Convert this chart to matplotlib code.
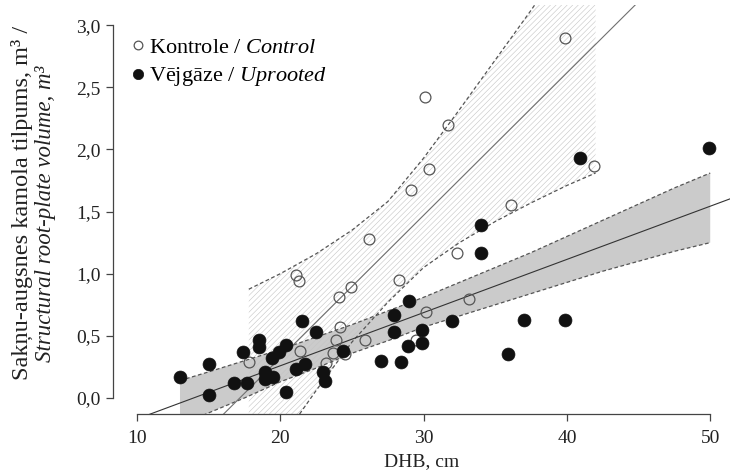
import matplotlib
matplotlib.use("Agg")
import matplotlib.pyplot as plt
import numpy as np

plt.rcParams['font.family'] = ['Liberation Serif', 'DejaVu Serif']
plt.rcParams['mathtext.fontset'] = 'custom'
plt.rcParams['mathtext.rm'] = 'Liberation Serif'
plt.rcParams['mathtext.it'] = 'Liberation Serif:italic'
plt.rcParams['hatch.linewidth'] = 0.4

# -----------------------------------------------------------#
# Data
# -----------------------------------------------------------#
ctrl_dhb = [17.8, 21.1, 21.3, 21.4, 23.2, 23.7, 23.9, 24.1, 24.2, 24.5, 24.9,
            25.9, 26.2, 28.3, 29.1, 29.5, 30.1, 30.2, 30.4, 31.7, 32.3, 33.2,
            36.1, 39.9, 41.9]
ctrl_vol = [0.29, 0.99, 0.94, 0.38, 0.28, 0.36, 0.47, 0.81, 0.57, 0.35, 0.89,
            0.47, 1.28, 0.95, 1.67, 0.47, 2.42, 0.69, 1.84, 2.20, 1.17, 0.80,
            1.55, 2.90, 1.87]

upr_dhb = [13.0, 15.0, 15.0, 16.8, 17.4, 17.7, 18.5, 18.5, 18.9, 18.9, 19.4,
           19.5, 19.9, 20.4, 20.4, 21.1, 21.5, 21.7, 22.5, 23.0, 23.1, 24.4,
           27.0, 27.9, 27.9, 28.4, 28.9, 29.0, 29.9, 29.9, 32.0, 34.0, 34.0,
           35.9, 37.0, 39.9, 40.9, 49.9]
upr_vol = [0.17, 0.27, 0.02, 0.12, 0.37, 0.12, 0.47, 0.41, 0.21, 0.15, 0.32,
           0.17, 0.37, 0.43, 0.05, 0.23, 0.62, 0.27, 0.53, 0.21, 0.14, 0.38,
           0.30, 0.67, 0.53, 0.29, 0.42, 0.78, 0.55, 0.44, 0.62, 1.39, 1.17,
           0.35, 0.63, 0.63, 1.93, 2.01]

# regression lines (intercept, slope)
ctrl_fit = (-1.968, 0.1146)
upr_fit = (-0.597, 0.0428)

# confidence bands
ctrl_band_x = [17.8, 20, 22.5, 25, 27.5, 30, 32.5, 35, 37.5, 40, 42]
ctrl_band_lo = [-0.73, -0.35, 0.06, 0.45, 0.77, 1.05, 1.25, 1.42, 1.57, 1.71, 1.81]
ctrl_band_hi = [0.875, 1.00, 1.16, 1.35, 1.58, 1.93, 2.32, 2.72, 3.12, 3.54, 3.88]

upr_band_x = [13, 15, 17.5, 20, 22.5, 25, 27.5, 30, 32.5, 35, 37.5, 40, 42.5, 45, 47.5, 50]
upr_band_lo = [-0.22, -0.12, 0.00, 0.13, 0.24, 0.36, 0.46, 0.57, 0.66, 0.75,
               0.84, 0.93, 1.02, 1.10, 1.18, 1.25]
upr_band_hi = [0.14, 0.21, 0.30, 0.39, 0.49, 0.59, 0.70, 0.81, 0.93, 1.05,
               1.17, 1.30, 1.43, 1.56, 1.69, 1.81]

xticks = [10, 20, 30, 40, 50]
yticks = [0.0, 0.5, 1.0, 1.5, 2.0, 2.5, 3.0]
ytick_labels = ['0,0', '0,5', '1,0', '1,5', '2,0', '2,5', '3,0']

# -----------------------------------------------------------#
# Figure
# -----------------------------------------------------------#
W, H = 730, 475
fig = plt.figure(figsize=(W / 100, H / 100), dpi=100)
ax = fig.add_axes([113 / W, 61 / H, 617 / W, 409 / H])
ax.set_xlim(8.325, 51.38)
ax.set_ylim(-0.129, 3.162)

dash = (0, (3, 2))
edge = '#555555'

# uprooted band (grey)
ax.fill_between(upr_band_x, upr_band_lo, upr_band_hi, facecolor='#cbcbcb',
                linewidth=0, zorder=1)
ax.plot(upr_band_x, upr_band_lo, color=edge, lw=0.9, ls=dash, zorder=2)
ax.plot(upr_band_x, upr_band_hi, color=edge, lw=0.9, ls=dash, zorder=2)

# control band (hatched)
ax.fill_between(ctrl_band_x, ctrl_band_lo, ctrl_band_hi, facecolor='none',
                edgecolor='#c4c4c4', linewidth=0, hatch='//////', zorder=1.5)
ax.plot(ctrl_band_x, ctrl_band_lo, color=edge, lw=0.9, ls=dash, zorder=2)
ax.plot(ctrl_band_x, ctrl_band_hi, color=edge, lw=0.9, ls=dash, zorder=2)

# regression lines across the plot region
xl = np.array(ax.get_xlim())
ax.plot(xl, ctrl_fit[0] + ctrl_fit[1] * xl, color='#707070', lw=0.8, zorder=2)
ax.plot(xl, upr_fit[0] + upr_fit[1] * xl, color='#333333', lw=0.8, zorder=2)

# points
h_ctrl, = ax.plot(ctrl_dhb, ctrl_vol, 'o', ms=7.8, mfc='none', mec='#555555',
                  mew=0.9, ls='none', zorder=3)
h_upr, = ax.plot(upr_dhb, upr_vol, 'o', ms=9.3, mfc='#111111', mec='#111111',
                 mew=0.5, ls='none', zorder=4)

# axes styling
for s in ['top', 'right']:
    ax.spines[s].set_visible(False)
ax.spines['left'].set_bounds(0, 3)
ax.spines['bottom'].set_bounds(10, 50)
for s in ['left', 'bottom']:
    ax.spines[s].set_color('#444444')
    ax.spines[s].set_linewidth(0.9)
ax.set_xticks(xticks)
ax.set_yticks(yticks)
ax.set_yticklabels(ytick_labels)
ax.tick_params(axis='both', direction='out', length=5, width=0.9, colors='#444444',
               labelcolor='#222222')
ax.tick_params(axis='y', labelsize=14, pad=4)
ax.tick_params(axis='x', labelsize=14, pad=6.5)
ax.set_xlabel('DHB, cm', fontsize=14, color='#222222', labelpad=4.5)

fig.text(22 / W, 1 - 203 / H, 'Sakņu-augsnes kamola tilpums, m³ /', rotation=90,
         ha='center', va='center', fontsize=17.5, color='#222222')
fig.text(46 / W, 1 - 214 / H, 'Structural root-plate volume, m³', rotation=90,
         ha='center', va='center', fontsize=16.5, style='italic', color='#222222')

leg = ax.legend([h_ctrl, h_upr],
                [r'Kontrole / $\mathit{Control}$', r'Vējgāze / $\mathit{Uprooted}$'],
                loc='upper left', bbox_to_anchor=(18 / 617, 1 - 32 / 409),
                frameon=False, handlelength=0.6, handletextpad=0.2,
                labelspacing=0.35, borderpad=0, borderaxespad=0,
                prop={'family': 'Liberation Serif', 'size': 16}, markerscale=0.8)

fig.savefig('out.png', dpi=100)
